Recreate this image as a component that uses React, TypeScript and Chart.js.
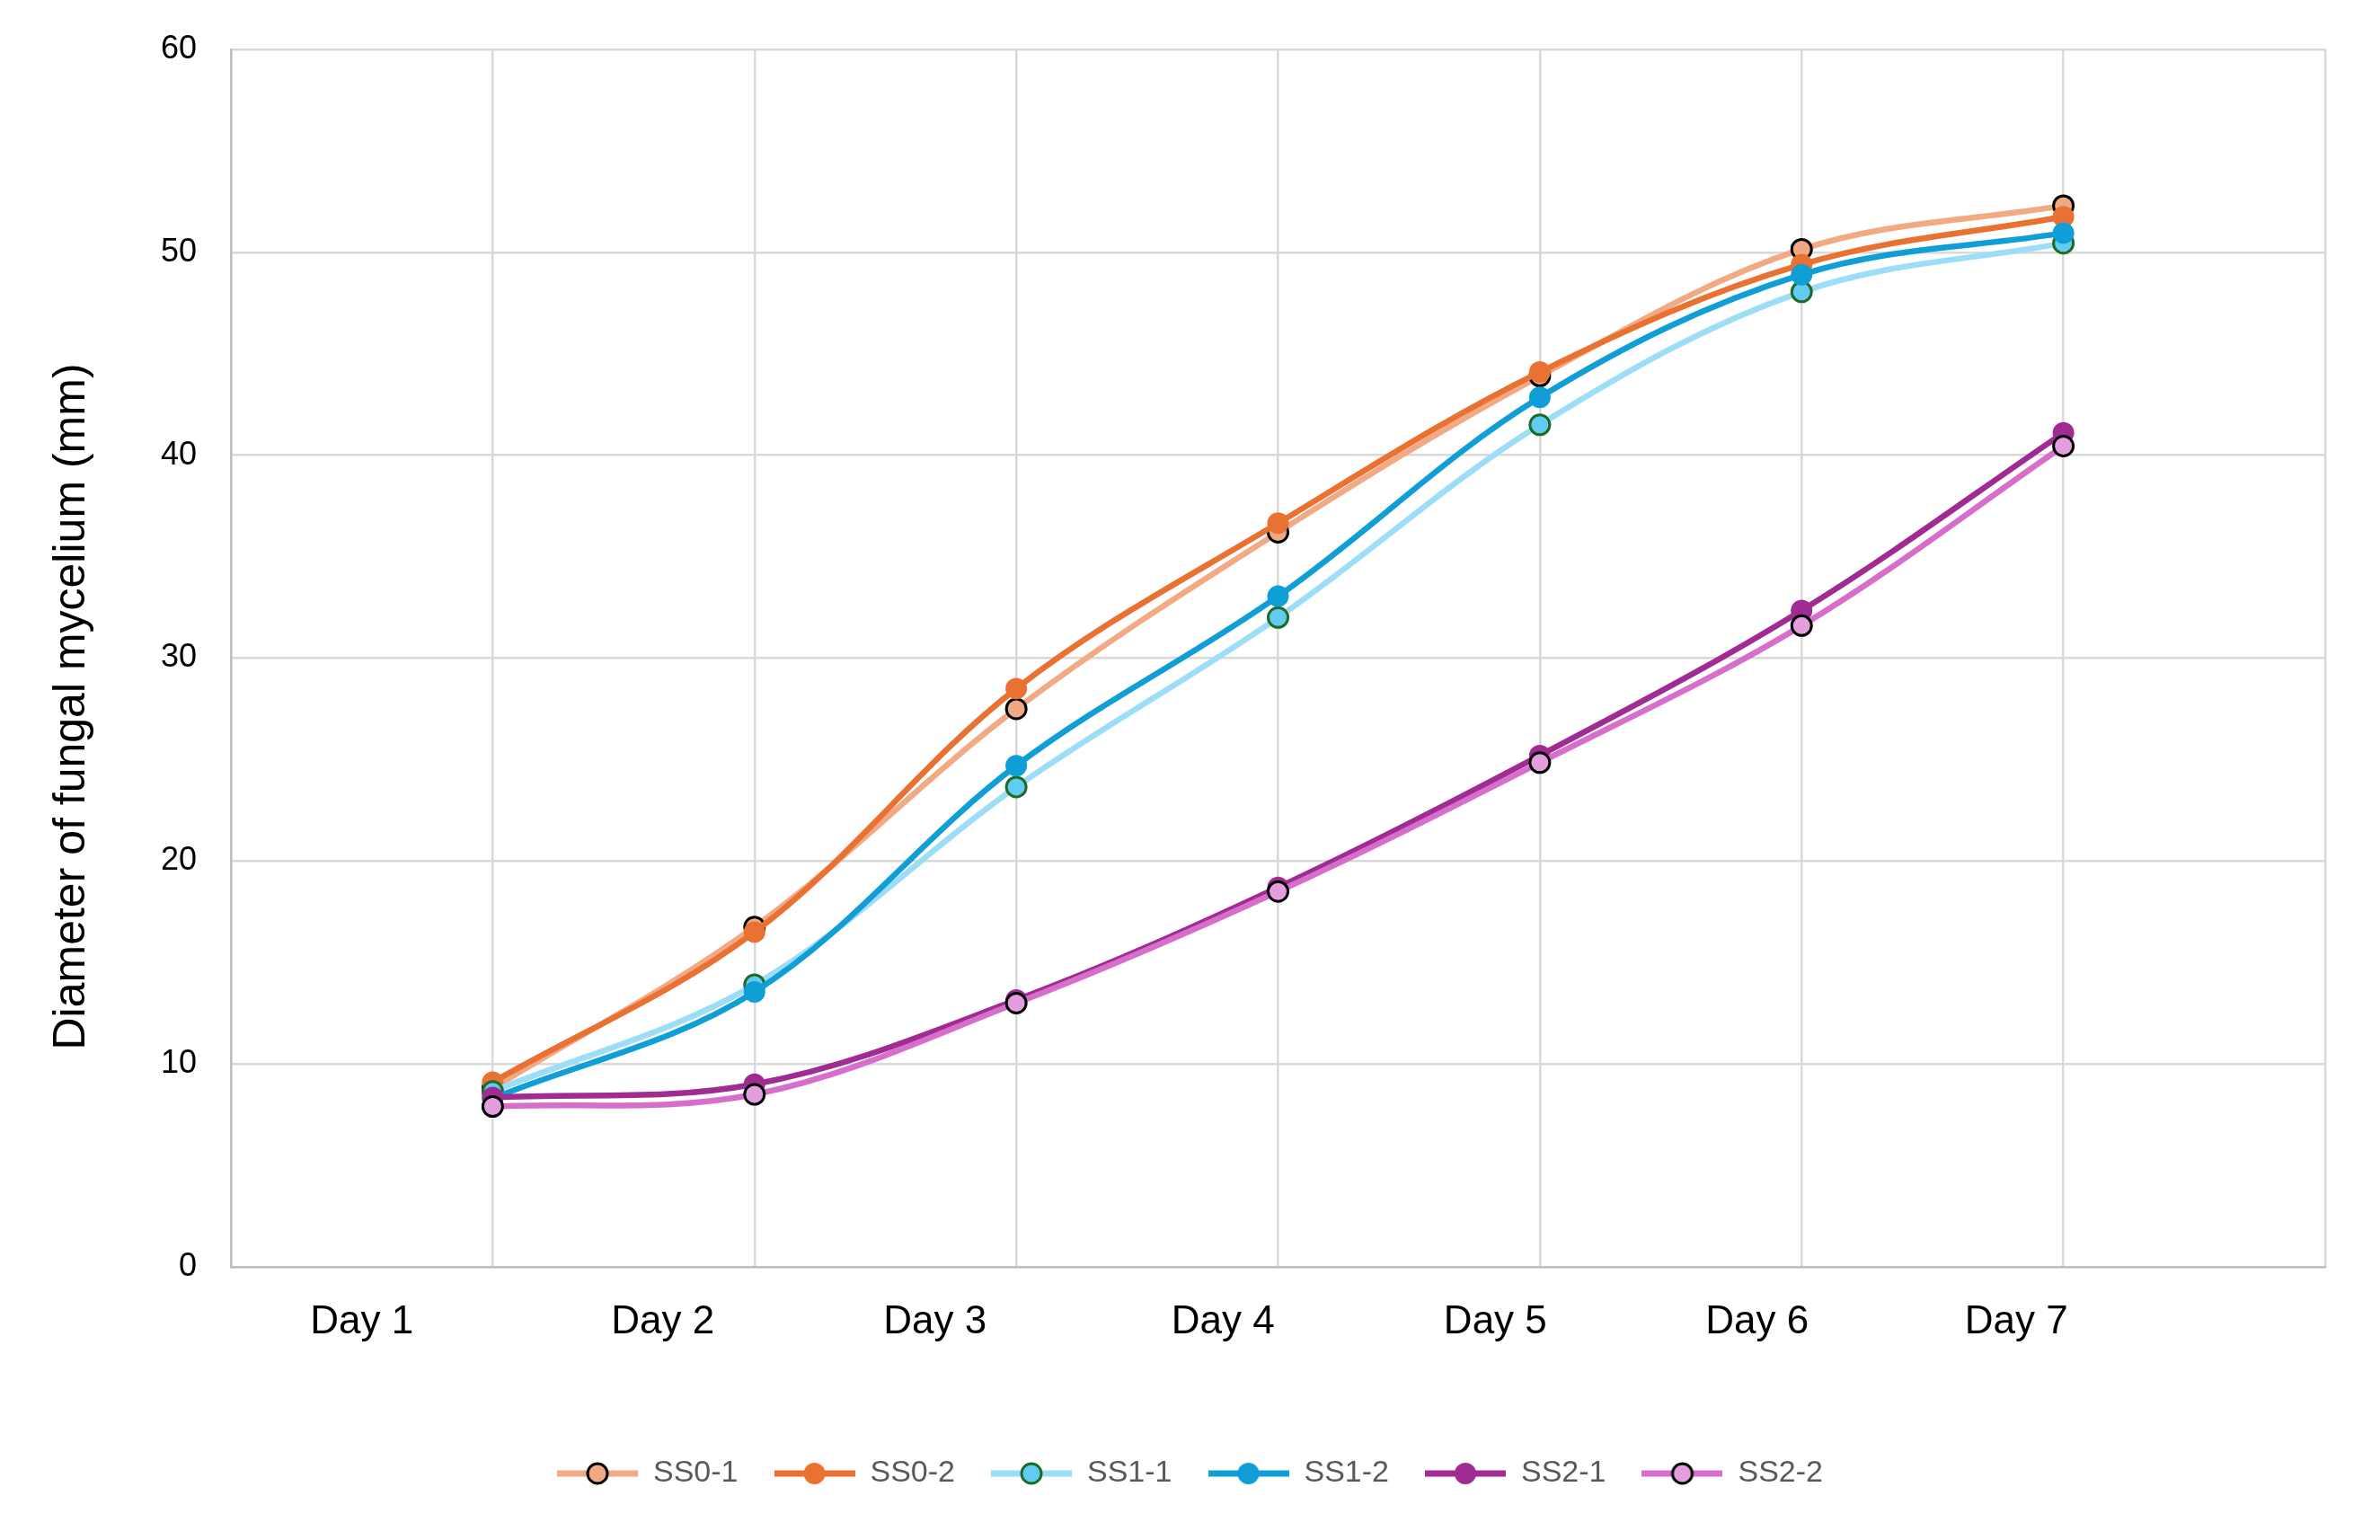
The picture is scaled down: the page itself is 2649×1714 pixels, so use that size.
import React, { useEffect, useRef } from "react";
import { Chart, registerables } from "chart.js";

Chart.register(...registerables);

const W = 2649;
const H = 1714;
const FONT = "'Liberation Sans', Arial, Helvetica, sans-serif";

// ---- data ----
const dayIndex = [1, 2, 3, 4, 5, 6, 7];
const dayLabels = ["Day 1", "Day 2", "Day 3", "Day 4", "Day 5", "Day 6", "Day 7"];
// where the (hand-placed) day labels sit along the x scale
const dayLabelSlots = [0.5, 1.65, 2.69, 3.79, 4.83, 5.83, 6.82];
const yTickValues = [0, 10, 20, 30, 40, 50, 60];
const yTitle = "Diameter of fungal mycelium (mm)";

const seriesNames = ["SS0-1", "SS0-2", "SS1-1", "SS1-2", "SS2-1", "SS2-2"];
const ss0_1 = [8.8, 16.75, 27.5, 36.2, 43.9, 50.15, 52.3];
const ss0_2 = [9.1, 16.5, 28.5, 36.65, 44.1, 49.4, 51.75];
const ss1_1 = [8.65, 13.9, 23.65, 32.0, 41.5, 48.05, 50.45];
const ss1_2 = [8.3, 13.55, 24.7, 33.05, 42.85, 48.9, 50.95];
const ss2_1 = [8.35, 9.0, 13.15, 18.7, 25.2, 32.35, 41.1];
const ss2_2 = [7.9, 8.5, 13.0, 18.5, 24.85, 31.6, 40.45];
const seriesValues = [ss0_1, ss0_2, ss1_1, ss1_2, ss2_1, ss2_2];

// ---- styles ----
const lineColors = ["#F2AA84", "#E97132", "#9CDDF7", "#0F9ED5", "#A02B93", "#D86ECC"];
const markerFills = ["#F1A983", "#E97132", "#61CBF3", "#0F9ED5", "#A02B93", "#E59EDD"];
const markerBorders = ["#000000", "#E97132", "#1E6B24", "#0F9ED5", "#A02B93", "#000000"];
const markerBorderWidths = [3, 0, 3, 0, 0, 3];
const GRID = "#D9D9D9";
const AXIS = "#BFBFBF";

function markerRadius(i: number) {
  return markerBorderWidths[i] > 0 ? 11 : 12;
}

function legendGlyph(i: number): HTMLCanvasElement {
  const c = document.createElement("canvas");
  c.width = 90;
  c.height = 30;
  const g = c.getContext("2d")!;
  g.strokeStyle = lineColors[i];
  g.lineWidth = 7;
  g.beginPath();
  g.moveTo(0, 15);
  g.lineTo(90, 15);
  g.stroke();
  g.beginPath();
  g.arc(45, 15, markerRadius(i), 0, Math.PI * 2);
  g.fillStyle = markerFills[i];
  g.fill();
  if (markerBorderWidths[i] > 0) {
    g.lineWidth = markerBorderWidths[i];
    g.strokeStyle = markerBorders[i];
    g.stroke();
  }
  return c;
}

const yTitlePlugin = {
  id: "yTitlePlugin",
  afterDraw(chart: any) {
    const { ctx, chartArea } = chart;
    ctx.save();
    ctx.translate(80, (chartArea.top + chartArea.bottom) / 2 + 54);
    ctx.rotate(-Math.PI / 2);
    ctx.font = `50px ${FONT}`;
    ctx.fillStyle = "#000000";
    ctx.textAlign = "center";
    ctx.textBaseline = "middle";
    ctx.fillText(yTitle, 0, 0);
    ctx.restore();
  },
};

export default function App() {
  const ref = useRef<HTMLCanvasElement | null>(null);

  useEffect(() => {
    if (!ref.current) return;
    const glyphs = seriesNames.map((_, i) => legendGlyph(i));
    const datasets = seriesNames.map((name, i) => ({
      label: name,
      data: dayIndex.map((d, k) => ({ x: d, y: seriesValues[i][k] })),
      borderColor: lineColors[i],
      backgroundColor: markerFills[i],
      borderWidth: 6.5,
      tension: 0.35,
      pointRadius: markerRadius(i),
      pointBackgroundColor: markerFills[i],
      pointBorderColor: markerBorders[i],
      pointBorderWidth: markerBorderWidths[i],
      order: seriesNames.length - 1 - i,
      xAxisID: "x",
      yAxisID: "y",
    }));

    const chart = new Chart(ref.current, {
      type: "line",
      data: { datasets },
      plugins: [yTitlePlugin],
      options: {
        responsive: false,
        animation: false,
        devicePixelRatio: 1,
        layout: { padding: { top: 55, left: 0, right: 0, bottom: 47 } },
        font: { family: FONT },
        plugins: {
          tooltip: { enabled: false },
          title: { display: false },
          legend: {
            display: true,
            position: "bottom",
            labels: {
              usePointStyle: true,
              pointStyleWidth: 90,
              padding: 40,
              color: "#595959",
              font: { family: FONT, size: 34 },
              generateLabels: (c: any) =>
                c.data.datasets.map((ds: any, i: number) => ({
                  text: ds.label,
                  pointStyle: glyphs[i],
                  fillStyle: markerFills[i],
                  strokeStyle: lineColors[i],
                  lineWidth: 0,
                  hidden: false,
                  datasetIndex: i,
                  fontColor: "#595959",
                })),
            },
          },
        },
        scales: {
          x: {
            type: "linear",
            position: "bottom",
            min: 0,
            max: 8,
            ticks: { display: false, stepSize: 1 },
            grid: { color: GRID, lineWidth: 2.5, drawTicks: false },
            border: { color: AXIS, width: 2.5 },
          },
          xl: {
            type: "linear",
            position: "bottom",
            min: 0,
            max: 8,
            grid: { display: false, drawTicks: false },
            border: { display: false },
            afterBuildTicks: (axis: any) => {
              axis.ticks = dayLabelSlots.map((v) => ({ value: v }));
            },
            afterFit: (s: any) => {
              s.height = 173;
              s.paddingLeft = 0;
              s.paddingRight = 0;
            },
            ticks: {
              autoSkip: false,
              maxRotation: 0,
              minRotation: 0,
              padding: 35,
              color: "#000000",
              font: { family: FONT, size: 44 },
              callback: (_v: any, idx: number) => dayLabels[idx],
            },
          },
          y: {
            type: "linear",
            position: "left",
            min: 0,
            max: 60,
            afterBuildTicks: (axis: any) => {
              axis.ticks = yTickValues.map((v) => ({ value: v }));
            },
            afterFit: (s: any) => {
              s.width = 257;
              s.paddingTop = 0;
              s.paddingBottom = 0;
            },
            ticks: {
              padding: 38,
              color: "#000000",
              font: { family: FONT, size: 36 },
            },
            grid: { color: GRID, lineWidth: 2.5, drawTicks: false },
            border: { color: AXIS, width: 2.5 },
          },
          yR: {
            type: "linear",
            position: "right",
            min: 0,
            max: 60,
            grid: { display: false, drawTicks: false },
            border: { display: false },
            ticks: { display: false },
            afterFit: (s: any) => {
              s.width = 61;
              s.paddingTop = 0;
              s.paddingBottom = 0;
            },
          },
        },
      },
    } as any);

    return () => chart.destroy();
  }, []);

  return (
    <div style={{ position: "fixed", left: 0, top: 0, width: W, height: H, background: "#ffffff" }}>
      <canvas ref={ref} width={W} height={H} style={{ width: W, height: H, display: "block" }} />
    </div>
  );
}
